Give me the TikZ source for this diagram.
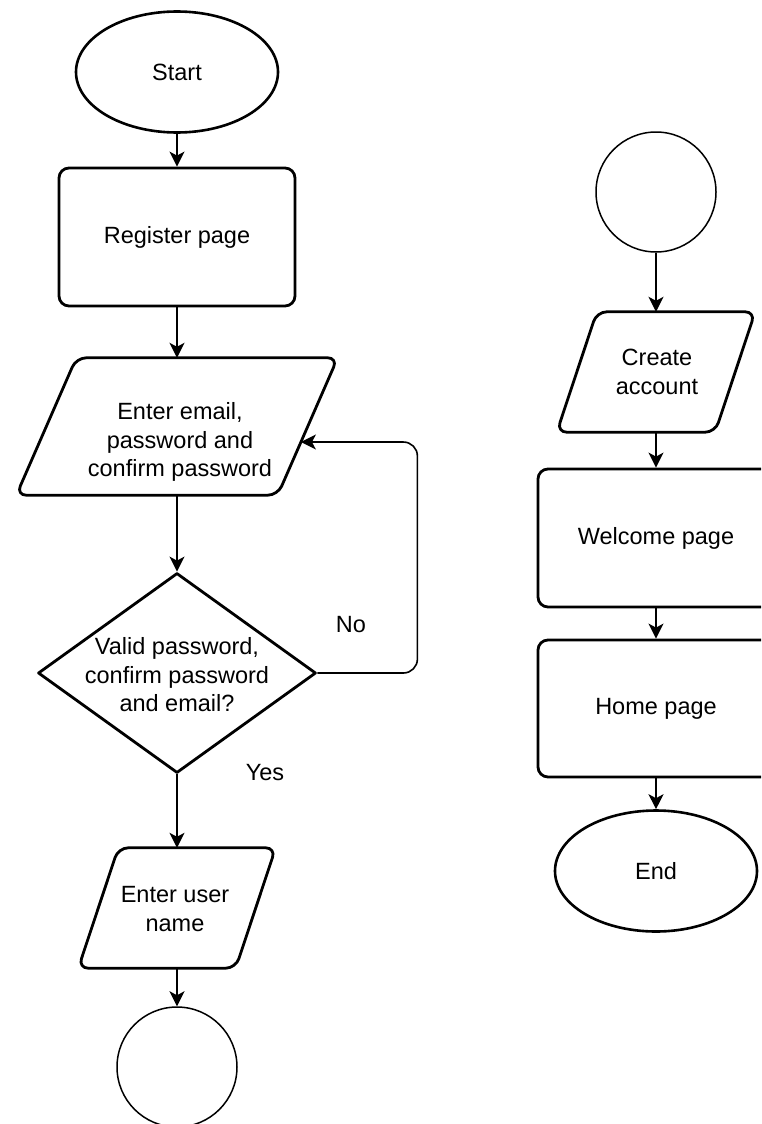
\documentclass[tikz,border=0pt]{standalone}
\usepackage{fontspec}
\setmainfont{Liberation Sans}
\usetikzlibrary{shapes.geometric,arrows.meta,calc}
\begin{document}
\begin{tikzpicture}[x=1pt,y=-1pt,
  font=\fontsize{23.5}{28.5}\selectfont,
  shapeline/.style={draw=black,line width=2.8pt,rounded corners=10pt,line join=round},
  terminal/.style={ellipse,draw=black,line width=2.6pt,minimum width=202pt,minimum height=121pt,inner sep=0pt},
  connector/.style={circle,draw=black,line width=1.5pt,minimum size=120pt,inner sep=0pt},
  procbox/.style={rectangle,shapeline,minimum width=236pt,inner sep=0pt},
  pbox/.style={rectangle,inner sep=0pt},
  txt/.style={align=center,inner sep=0pt},
  decbox/.style={diamond,draw=black,line width=2.8pt,line join=round,minimum width=278pt,minimum height=200pt,inner sep=0pt},
  conn/.style={draw=black,line width=1.6pt,-{Stealth[length=15pt,width=15pt,inset=4pt]}},
  lbl/.style={inner sep=0pt}
]
\useasboundingbox (0,0) rectangle (761,1124);
\clip (0,0) rectangle (761,1124);

% left column
\node[terminal] (start) at (177,72) {Start};
\node[procbox,minimum height=138pt] (reg) at (177,237) {Register page};
\node[pbox,minimum width=321pt,minimum height=137pt] (p1) at (177,426.5) {};
\draw[shapeline] ([xshift=60pt]p1.north west) -- (p1.north east) -- ([xshift=-60pt]p1.south east) -- (p1.south west) -- cycle;
\node[txt] (p1t) at (180,442) {Enter email,\\password and\\confirm password};
\node[decbox] (dec) at (177,673) {};
\node[txt] (dect) at (177,675) {Valid password,\\confirm password\\and email?};
\node[pbox,minimum width=197pt,minimum height=120pt] (p3) at (177,908) {};
\draw[shapeline] ([xshift=40pt]p3.north west) -- (p3.north east) -- ([xshift=-40pt]p3.south east) -- (p3.south west) -- cycle;
\node[txt] (p3t) at (175,909) {Enter user\\name};
\node[connector] (c1) at (177,1067) {};

% right column
\node[connector] (c2) at (656,192) {};
\node[pbox,minimum width=198pt,minimum height=120pt] (p2) at (656,372) {};
\draw[shapeline] ([xshift=40pt]p2.north west) -- (p2.north east) -- ([xshift=-40pt]p2.south east) -- (p2.south west) -- cycle;
\node[txt] (p2t) at (657,372) {Create\\account};
\node[procbox,minimum height=138pt] (wel) at (656,538) {Welcome page};
\node[procbox,minimum height=137pt] (home) at (656,708.5) {Home page};
\node[terminal] (end) at (656,871) {End};

% connectors
\coordinate (p1r) at ($(p1.north east)!0.613!([xshift=-60pt]p1.south east)$);
\draw[conn] (start.south) -- (reg.north);
\draw[conn] (reg.south) -- (p1.north);
\draw[conn] (p1.south) -- (dec.north);
\draw[conn,rounded corners=14pt] (dec.east) -- ++(100,0) |- (p1r);
\draw[conn] (dec.south) -- (p3.north);
\draw[conn] (p3.south) -- (c1.north);
\node[lbl] (no) at (351,625) {No};
\node[lbl] (yes) at (265,773) {Yes};

\draw[conn] (c2.south) -- (p2.north);
\draw[conn] (p2.south) -- (wel.north);
\draw[conn] (wel.south) -- (home.north);
\draw[conn] (home.south) -- (end.north);
\end{tikzpicture}
\end{document}
